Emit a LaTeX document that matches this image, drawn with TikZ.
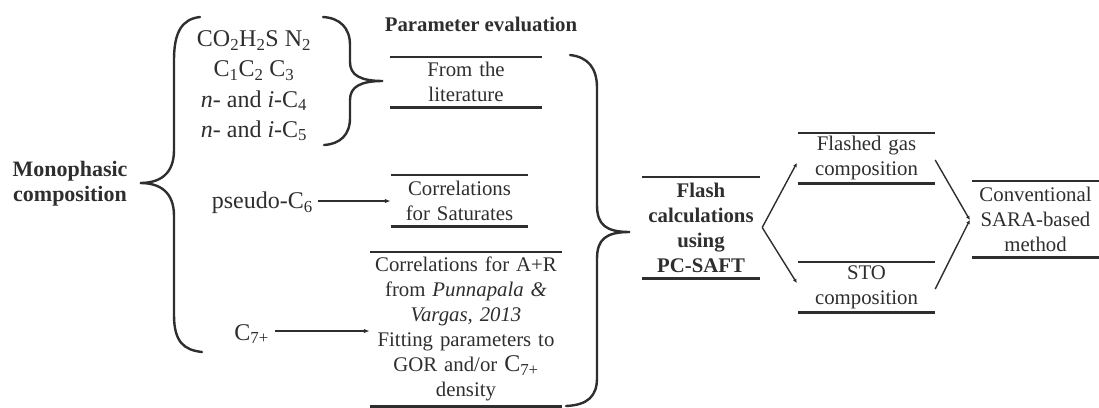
\documentclass[tikz,border=0pt]{standalone}
\usepackage{fontspec}
\setmainfont{Liberation Serif}
\usetikzlibrary{arrows.meta}
\definecolor{ink}{HTML}{2E2E2E}
\begin{document}
\begin{tikzpicture}[x=1pt,y=-1pt,
  every node/.style={text=ink, inner sep=0pt},
  rbox/.style={align=center, font=\fontsize{20.8}{25}\selectfont},
  bbox/.style={align=center, font=\fontsize{20.8}{25}\selectfont\bfseries},
  big/.style={align=center, font=\fontsize{24}{30}\selectfont},
  rule/.style={draw=ink, line width=2.6pt},
  brace/.style={draw=ink, line width=2.4pt, line cap=round},
  harrow/.style={draw=ink, line width=2pt, -{Latex[length=6pt,width=4.5pt]}},
  farrow/.style={draw=ink, line width=1.4pt, -{Latex[length=4pt,width=4pt]}}
]
\useasboundingbox (0,0) rectangle (1099,407);

% left column
\node[align=center, font=\fontsize{22}{25}\selectfont\bfseries] (mono) at (70,184) {Monophasic\\composition};
\node[big] (gases) at (254,86) {CO\textsubscript{2}H\textsubscript{2}S N\textsubscript{2}\\C\textsubscript{1}C\textsubscript{2} C\textsubscript{3}\\\textit{n}- and \textit{i}-C\textsubscript{4}\\\textit{n}- and \textit{i}-C\textsubscript{5}};
\node[big, anchor=east] (pseudo) at (313,203) {pseudo-C\textsubscript{6}};
\node[big, anchor=east] (c7) at (269,334) {C\textsubscript{7+}};

% braces
\draw[brace] (200,17) .. controls (182,19) and (174,32) .. (174,60) -- (174,150)
  .. controls (174,174) and (160,183) .. (140,183)
  .. controls (160,183) and (174,192) .. (174,216) -- (174,315)
  .. controls (174,342) and (184,350) .. (202,352);
\draw[brace] (323,17) .. controls (340,18) and (350,28) .. (350,45) -- (350,62)
  .. controls (350,75) and (360,81) .. (383,81)
  .. controls (360,81) and (350,87) .. (350,100) -- (350,118)
  .. controls (350,135) and (340,144) .. (324,145);
\draw[brace] (570,55) .. controls (588,57) and (597,68) .. (597,88) -- (597,205)
  .. controls (597,225) and (606,232) .. (630,232)
  .. controls (606,232) and (597,239) .. (597,259) -- (597,378)
  .. controls (597,396) and (588,405) .. (566,406);

% parameter evaluation
\node[bbox] (param) at (481,24) {Parameter evaluation};
\node[rbox, text width=152pt, minimum height=50pt] (lit) at (466,82) {From the\\literature};
\node[rbox, text width=137pt, minimum height=51pt] (sat) at (459.5,200.5) {Correlations\\for Saturates};
\node[rbox, text width=192pt, minimum height=154pt] (ar) at (466,329) {Correlations for A+R\\from \textit{Punnapala \&}\\\textit{Vargas, 2013}\\Fitting parameters to\\GOR and/or {\fontsize{24}{25}\selectfont C\textsubscript{7+}}\\density};
\foreach \b in {lit,sat,ar}
  \draw[rule] (\b.north west) -- (\b.north east) (\b.south west) -- (\b.south east);

\draw[harrow] ([xshift=5pt,yshift=2pt]pseudo.east) -- ([yshift=2pt]pseudo.east -| sat.west);
\draw[harrow] ([xshift=6pt,yshift=3pt]c7.east) -- ([yshift=3pt]c7.east -| ar.west);

% right part
\node[bbox, text width=118pt, minimum height=101pt] (flash) at (701,227.5) {Flash\\calculations\\using\\PC-SAFT};
\node[rbox, text width=137pt, minimum height=50pt] (gas) at (866.5,158) {Flashed gas\\composition};
\node[rbox, text width=137pt, minimum height=50pt] (sto) at (866.5,287) {STO\\composition};
\node[rbox, text width=127pt, minimum height=76pt] (sara) at (1035.5,219) {Conventional\\SARA-based\\method};
\foreach \b in {flash,gas,sto,sara}
  \draw[rule] (\b.north west) -- (\b.north east) (\b.south west) -- (\b.south east);

\draw[farrow] ([xshift=2pt]flash.east) -- ([xshift=-1pt,yshift=-5pt]gas.west);
\draw[farrow] ([xshift=2pt]flash.east) -- ([xshift=-1pt,yshift=4pt]sto.west);
\draw[farrow] ([yshift=-2pt]gas.east) -- ([xshift=-2pt,yshift=-1pt]sara.west);
\draw[farrow] ([yshift=-2pt]sto.east) -- ([xshift=-2pt,yshift=-1pt]sara.west);
\end{tikzpicture}
\end{document}
